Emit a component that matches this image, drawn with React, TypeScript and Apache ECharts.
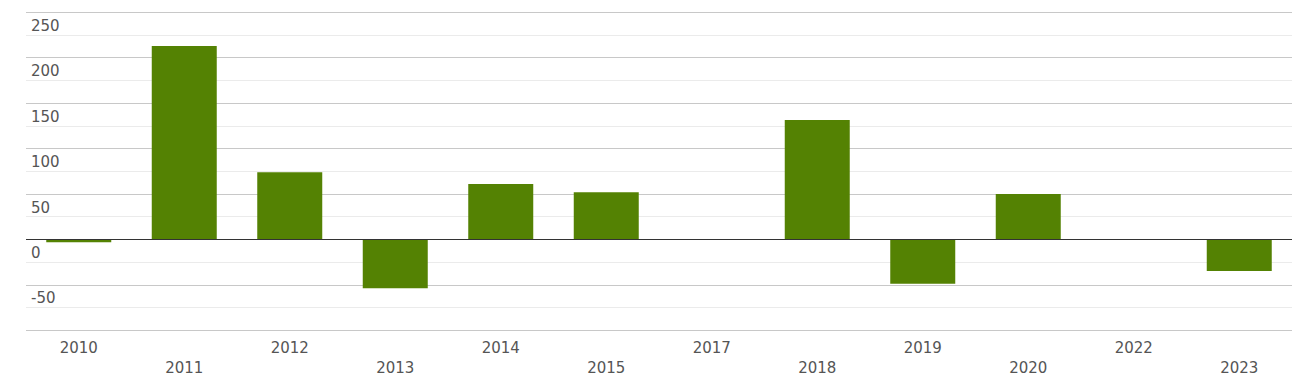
import React, { useEffect, useRef } from "react";
import * as echarts from "echarts";

const categories = ["2010", "2011", "2012", "2013", "2014", "2015", "2017", "2018", "2019", "2020", "2022", "2023"];
const values = [-3, 212.9, 74, -53.6, 60.9, 52, 0, 131.4, -48.9, 49.9, 0, -34.6];
const yMin = -100;
const yMax = 250;
const yStep = 50;

export default function App() {
  const ref = useRef<HTMLDivElement>(null);
  useEffect(() => {
    const chart = echarts.init(ref.current!, null, { renderer: "svg" });
    chart.setOption({
      animation: false,
      grid: { left: 26, right: 1, top: 12.3, height: 318, containLabel: false },
      xAxis: {
        type: "category",
        data: categories,
        axisLine: { show: false, onZero: false },
        axisTick: { show: false },
        axisLabel: {
          interval: 0,
          color: "#555",
          fontSize: 15,
          fontFamily: "DejaVu Sans",
          lineHeight: 20,
          margin: 8,
          formatter: (v: string, i: number) => (i % 2 ? "\n" + v : v),
        },
      },
      yAxis: {
        type: "value",
        min: yMin,
        max: yMax,
        interval: yStep,
        axisLine: { show: false },
        axisTick: { show: false },
        axisLabel: {
          inside: true,
          margin: 5,
          align: "left",
          verticalAlign: "top",
          padding: [6, 0, 0, 0],
          color: "#555",
          fontSize: 15,
          fontFamily: "DejaVu Sans",
          formatter: (v: number) => (v === yMin ? "" : String(v)),
        },
        splitLine: { show: true, lineStyle: { color: "#c8c8c8", width: 1 } },
        minorTick: { show: false, splitNumber: 2 },
        minorSplitLine: { show: true, lineStyle: { color: "#ebebeb", width: 1 } },
      },
      series: [
        {
          type: "bar",
          data: values,
          barWidth: 65,
          itemStyle: { color: "#548203" },
          markLine: {
            silent: true,
            symbol: "none",
            label: { show: false },
            lineStyle: { color: "#333", type: "solid", width: 1 },
            data: [{ yAxis: 0 }],
          },
        },
      ],
    });
    return () => chart.dispose();
  }, []);
  return <div ref={ref} style={{ width: 1293, height: 384, position: "absolute", left: 0, top: 0 }} />;
}
